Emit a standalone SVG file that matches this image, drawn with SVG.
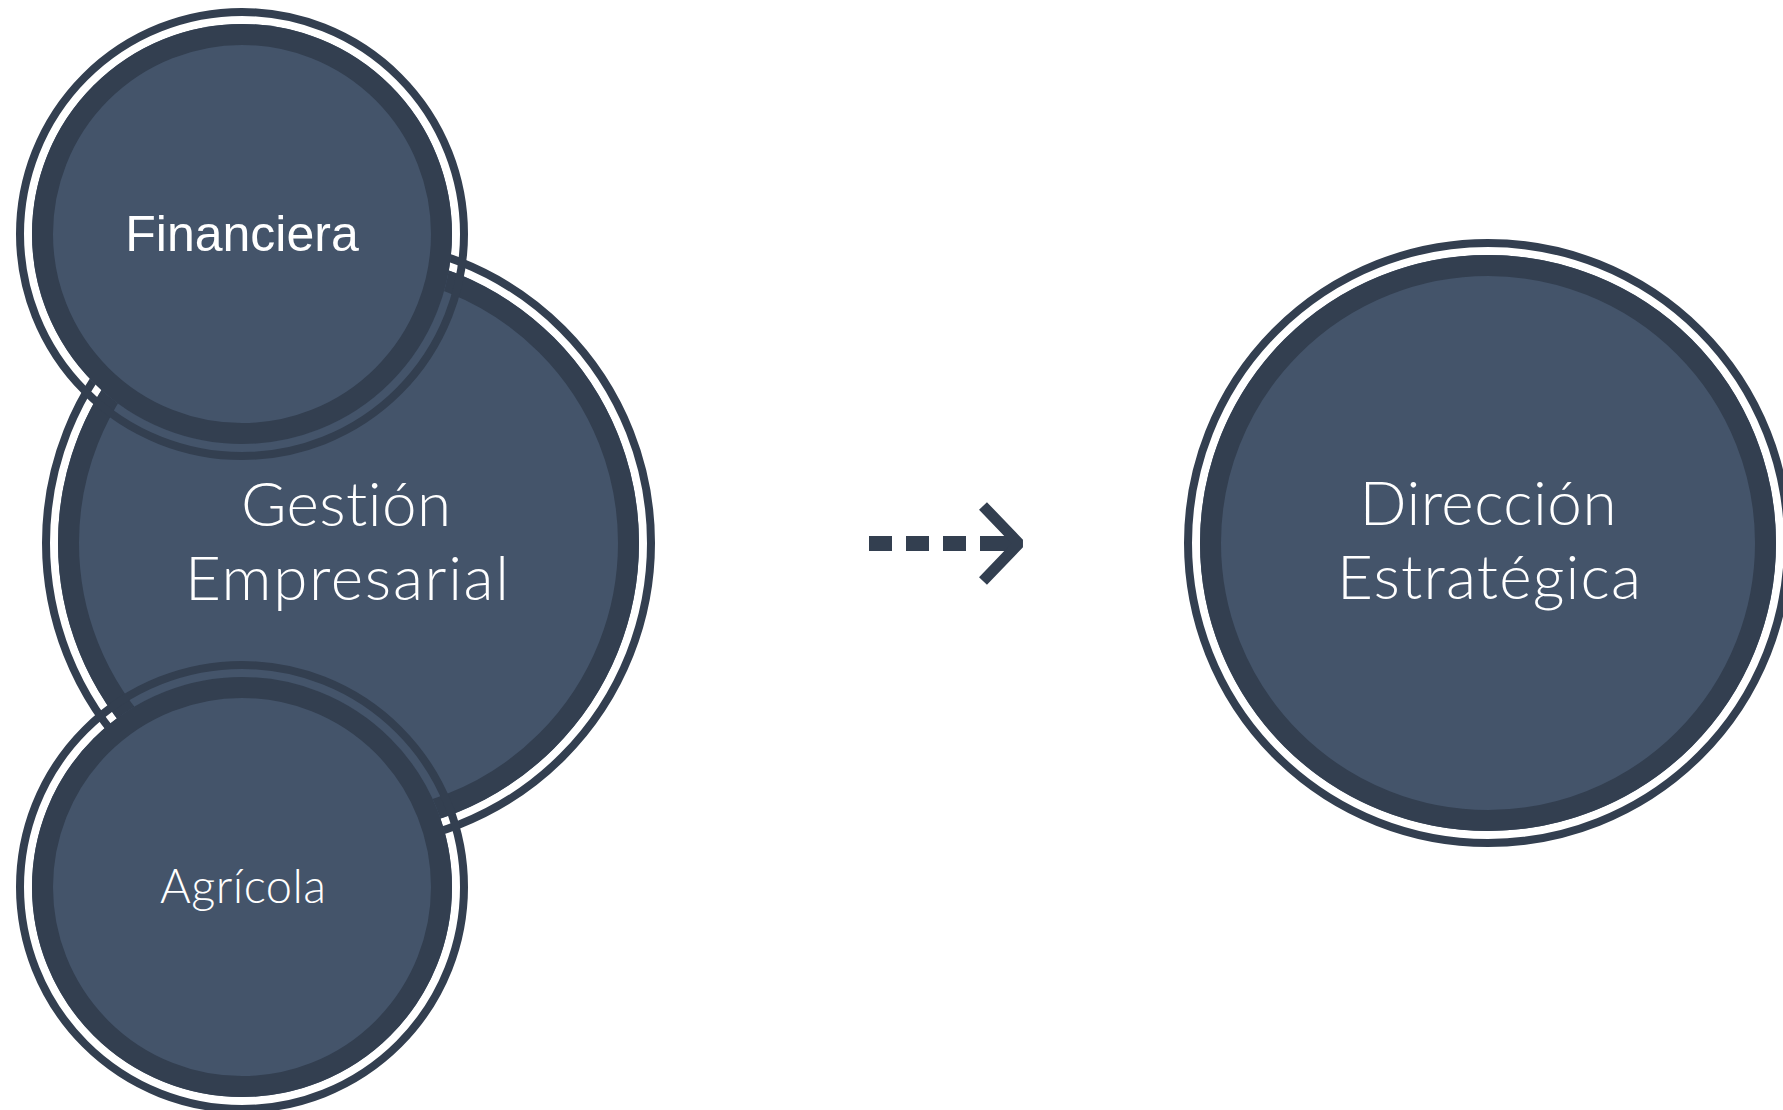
<svg xmlns="http://www.w3.org/2000/svg" width="1783" height="1110" viewBox="0 0 1783 1110">
<style>
.bg{fill:#FFFFFF}
.fill{fill:#44546A}
.thick{fill:none;stroke:#333F50;stroke-width:21}
.thin{fill:none;stroke:#333F50;stroke-width:8}
.lbl{fill:#FFFFFF;font-family:Lato,"Open Sans","Liberation Sans",sans-serif;font-weight:300;text-anchor:middle;font-variant-ligatures:none;font-feature-settings:"liga" 0,"dlig" 0}
.big{font-size:62px}
.small{font-size:47px}
.arial{fill:#FFFFFF;font-family:"Liberation Sans",Arial,sans-serif;font-size:50px;text-anchor:middle}
.conn{fill:none;stroke:#333F50}
</style>
<rect class="bg" x="0" y="0" width="1783" height="1110"/>
<g id="gestion">
  <circle class="fill" cx="348.5" cy="543" r="290.5"/>
  <circle class="thick" cx="348.5" cy="543" r="280"/>
  <circle class="thin" cx="348.5" cy="543" r="302.5"/>
  <text class="lbl big" x="346" y="526" textLength="210">Gestión</text>
  <text class="lbl big" x="347" y="600" textLength="324">Empresarial</text>
</g>
<g id="financiera">
  <circle class="fill" cx="242" cy="234" r="210"/>
  <circle class="thick" cx="242" cy="234" r="199.5"/>
  <circle class="thin" cx="242" cy="234" r="222"/>
  <text class="arial" x="242" y="251">Financiera</text>
</g>
<g id="agricola">
  <circle class="fill" cx="242" cy="887" r="210"/>
  <circle class="thick" cx="242" cy="887" r="199.5"/>
  <circle class="thin" cx="242" cy="887" r="222"/>
  <text class="lbl small" x="243" y="903" textLength="166">Agrícola</text>
</g>
<g id="direccion">
  <circle class="fill" cx="1488" cy="543" r="288"/>
  <circle class="thick" cx="1488" cy="543" r="277.5"/>
  <circle class="thin" cx="1488" cy="543" r="300"/>
  <text class="lbl big" x="1488" y="525" textLength="257">Dirección</text>
  <text class="lbl big" x="1489" y="599" textLength="304">Estratégica</text>
</g>
<g id="connectors">
  <path class="conn" d="M869 543.5 H1016" stroke-width="15" stroke-dasharray="23 14 23 14 23 14 40"/>
  <path class="conn" d="M983 506 L1019 543.5 L983 581" stroke-width="11" stroke-linejoin="bevel"/>
</g>
</svg>
